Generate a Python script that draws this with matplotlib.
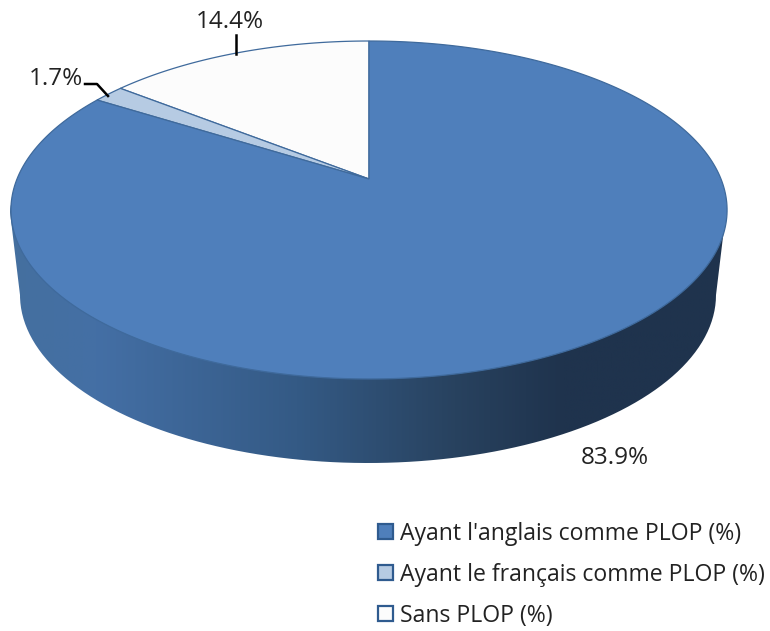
import numpy as np
import matplotlib
matplotlib.use('Agg')
import matplotlib.pyplot as plt
from matplotlib.colors import LinearSegmentedColormap
from matplotlib.patches import Polygon, PathPatch, Patch
from matplotlib.path import Path

plt.rcParams['font.family'] = ['Open Sans', 'DejaVu Sans']

categories = ["Ayant l'anglais comme PLOP (%)", "Ayant le français comme PLOP (%)", "Sans PLOP (%)"]
values = [83.9, 1.7, 14.4]
value_labels = ['83.9%', '1.7%', '14.4%']
colors = ['#4f7fbb', '#b6cbe3', '#fcfcfc']

# pie geometry in pixels, the top face is a circle seen in perspective
CX, CY = 369, 179
A, B, K = 352, 163.3, 0.1834
EDGE = '#3f6a9c'


def project(theta):
    # theta in degrees, counter clockwise from 12 o'clock
    t = np.radians(theta)
    u, v = -np.sin(t), np.cos(t)
    d = 1 + K * v
    return CX + A * u / d, CY - B * v / d


fig = plt.figure(figsize=(7.7, 6.31), dpi=100)
ax = fig.add_axes([0, 0, 1, 1])
ax.set_xlim(0, 770)
ax.set_ylim(631, 0)
ax.axis('off')

# side wall with horizontal shading
t = np.linspace(0, np.pi, 200)
low_x = 368 + 348 * np.cos(t)
low_y = 295 + 168 * np.sin(t)
top_t = np.linspace(np.pi, 0, 200)
wall_x = np.concatenate([low_x, 368 + 358 * np.cos(top_t)])
wall_y = np.concatenate([low_y, 212 - 100 * np.sin(top_t)])
wall = PathPatch(Path(np.column_stack([wall_x, wall_y])), facecolor='none', edgecolor='none')
ax.add_patch(wall)
shade = LinearSegmentedColormap.from_list('shade', [
    (0, '#44709f'), (0.12, '#446fa5'), (0.4, '#345a85'),
    (0.62, '#28425f'), (0.77, '#1f334d'), (1, '#1f334d')])
img = ax.imshow(np.linspace(0, 1, 256)[None, :], cmap=shade, extent=[10, 728, 470, 200],
                aspect='auto', zorder=1)
img.set_clip_path(wall)
ax.set_xlim(0, 770)
ax.set_ylim(631, 0)

# top face, wedges go counter clockwise from 12 o'clock starting with the last value
start = 0
for i in [2, 1, 0]:
    sweep = values[i] / sum(values) * 360
    th = np.linspace(start, start + sweep, 300)
    x, y = project(th)
    pts = np.column_stack([np.r_[CX, x], np.r_[CY, y]])
    ax.add_patch(Polygon(pts, closed=True, facecolor=colors[i], edgecolor=EDGE, linewidth=0.9, zorder=2))
    start += sweep

# labels and leader lines
ax.text(230, 22, value_labels[2], fontsize=17.5, color='#222222', ha='center', va='center')
ax.text(55.5, 79, value_labels[1], fontsize=17.5, color='#222222', ha='center', va='center')
ax.text(614.5, 458, value_labels[0], fontsize=17.5, color='#222222', ha='center', va='center')
ax.plot([236, 236], [35, 54], color='black', lw=1.8, zorder=3)
ax.plot([85, 97, 108], [84, 84, 96], color='black', lw=1.8, zorder=3)

handles = [Patch(facecolor=c, edgecolor='#2f5b8f', linewidth=1.6) for c in colors]
leg = ax.legend(handles, categories, loc='upper left', bbox_to_anchor=(0.491, 0.1735), frameon=False,
                fontsize=16.6, labelcolor='#222222', handlelength=0.66, handleheight=0.66,
                handletextpad=0.29, labelspacing=0.74, borderpad=0, borderaxespad=0)

fig.savefig('out.png', dpi=100)
